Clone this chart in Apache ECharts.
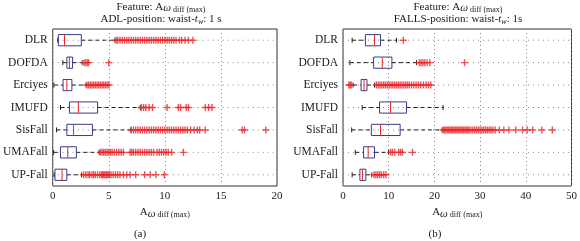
<!DOCTYPE html>
<html>
<head>
<meta charset="utf-8">
<script src="https://cdn.jsdelivr.net/npm/echarts@6/dist/echarts.min.js"></script>
<style>html,body{margin:0;padding:0;background:#fff}#c{width:580px;height:241px}</style>
</head>
<body>
<div id="c"></div>
<script>
// ---------- DATA ----------
const categories = ['DLR', 'DOFDA', 'Erciyes', 'IMUFD', 'SisFall', 'UMAFall', 'UP-Fall'];
const adlTicks = [0, 5, 10, 15, 20];
const fallTicks = [0, 10, 20, 30, 40, 50];

// [lower whisker, Q1, median, Q3, upper whisker]
const adlBoxes = [
  [0.45, 0.5, 1.05, 2.55, 5.55],
  [0.9, 1.26, 1.49, 1.77, 2.63],
  [0.1, 0.92, 1.26, 1.71, 2.97],
  [0.7, 1.49, 2.29, 4.0, 7.8],
  [0.34, 1.26, 1.86, 3.54, 6.97],
  [0.08, 0.69, 1.34, 2.11, 4.14],
  [0.12, 0.2, 0.83, 1.26, 2.57]
];
const fallBoxes = [
  [2.0, 4.9, 6.9, 8.2, 11.7],
  [1.5, 6.7, 8.6, 10.7, 16.1],
  [2.2, 3.96, 4.6, 5.25, 6.9],
  [4.2, 8.0, 10.4, 13.9, 21.9],
  [1.9, 6.2, 8.2, 12.5, 21.7],
  [2.7, 4.5, 5.5, 6.9, 10.0],
  [2.0, 3.7, 4.25, 5.0, 6.3]
];

const adlOutliers = [
  [5.65, 5.8, 6.0, 6.2, 6.4, 6.6, 6.8, 7.0, 7.2, 7.4, 7.6, 7.8, 8.0, 8.2, 8.4, 8.6, 8.8, 9.0, 9.2, 9.4, 9.6, 9.8, 10.0, 10.2, 10.4, 10.6, 10.8, 11.0, 11.3, 11.5, 11.8, 12.1, 12.5],
  [2.8, 2.95, 3.1, 3.2, 5.0],
  [3.05, 3.2, 3.35, 3.5, 3.65, 3.8, 3.95, 4.1, 4.25, 4.4, 4.55, 4.7, 4.85, 5.0],
  [7.9, 8.1, 8.3, 8.6, 8.9, 10.2, 11.2, 11.4, 11.9, 12.1, 13.6, 13.9, 14.2],
  [7.0, 7.2, 7.4, 7.6, 7.8, 8.0, 8.2, 8.4, 8.6, 8.8, 9.0, 9.2, 9.4, 9.6, 9.8, 10.0, 10.2, 10.4, 10.6, 10.8, 11.0, 11.2, 11.4, 11.6, 11.8, 12.0, 12.3, 12.6, 12.9, 13.1, 13.6, 16.9, 17.1, 19.0],
  [4.25, 4.4, 4.55, 4.7, 4.85, 5.0, 5.15, 5.3, 5.5, 5.7, 5.9, 6.1, 6.3, 6.9, 7.05, 7.2, 7.4, 7.6, 7.8, 8.0, 8.2, 8.4, 8.6, 8.8, 9.0, 9.3, 9.5, 9.7, 9.9, 10.1, 10.3, 10.6, 11.65],
  [2.75, 2.95, 3.15, 3.3, 3.5, 3.65, 3.8, 4.0, 4.2, 4.35, 4.45, 4.55, 4.65, 4.75, 4.85, 4.95, 5.05, 5.2, 5.4, 5.6, 5.8, 6.0, 6.3, 6.6, 6.9, 7.4, 8.2, 8.7, 9.2, 9.95]
];
const fallOutliers = [
  [13.2],
  [16.7, 17.1, 17.5, 17.9, 18.4, 19.0, 26.6],
  [1.3, 1.55, 1.8, 7.3, 7.7, 8.1, 8.5, 8.9, 9.3, 9.7, 10.1, 10.5, 10.9, 11.3, 11.7, 12.1, 12.5, 12.9, 13.3, 13.7, 14.1, 14.5, 15.0, 15.5, 16.0, 16.5, 17.0, 17.6, 18.2, 18.7, 19.2],
  [],
  [21.9, 22.2, 22.5, 22.8, 23.1, 23.4, 23.7, 24.0, 24.3, 24.6, 24.9, 25.2, 25.5, 25.8, 26.1, 26.4, 26.7, 27.0, 27.3, 27.6, 28.0, 28.4, 28.8, 29.2, 29.6, 30.0, 30.4, 30.8, 31.2, 31.6, 32.0, 32.4, 32.8, 33.3, 34.2, 35.2, 36.3, 37.8, 39.3, 40.3, 41.5, 43.5, 45.8],
  [10.4, 10.8, 11.3, 12.2, 12.6, 13.0, 15.2],
  [6.8, 7.2, 7.6, 8.0, 8.4, 8.9, 9.4]
];

// ---------- CHART ----------
const serif = '"Liberation Serif", "Times New Roman", serif';
const txt = '#1a1a1a';
const boxColor = '#3a3a88';
const red = '#e8262a';
const plusPath = 'path://M4,0H6V4H10V6H6V10H4V6H0V4H4Z';

const richBase = {
  n: { fontFamily: serif, fontSize: 11, fontWeight: 'normal', color: txt, lineHeight: 14 },
  w: { fontFamily: serif, fontSize: 11, fontWeight: 'normal', fontStyle: 'italic', color: txt, lineHeight: 12, verticalAlign: 'bottom' },
  s: { fontFamily: serif, fontSize: 8, fontWeight: 'normal', color: txt, lineHeight: 5, verticalAlign: 'bottom' },
  i: { fontFamily: serif, fontSize: 11, fontWeight: 'normal', fontStyle: 'italic', color: txt, lineHeight: 14 },
  si: { fontFamily: serif, fontSize: 8, fontWeight: 'normal', fontStyle: 'italic', color: txt, lineHeight: 6, verticalAlign: 'bottom' }
};

function renderBox(params, api) {
  const cat = api.value(0);
  const lo = api.coord([api.value(1), cat]);
  const q1 = api.coord([api.value(2), cat]);
  const md = api.coord([api.value(3), cat]);
  const q3 = api.coord([api.value(4), cat]);
  const hi = api.coord([api.value(5), cat]);
  const band = api.size([0, 1])[1];
  const h = band * 0.5;
  const cap = 2.5;
  const y = md[1];
  const cs = params.coordSys;
  const dash = { stroke: '#222', lineWidth: 1, lineDash: [4, 3] };
  const solid = { stroke: '#222', lineWidth: 1 };
  return {
    type: 'group',
    children: [
      { type: 'line', shape: { x1: cs.x, y1: y, x2: cs.x + cs.width, y2: y }, style: { stroke: '#8a8a8a', lineWidth: 1, lineDash: [1, 4] } },
      { type: 'line', shape: { x1: lo[0], y1: y, x2: q1[0], y2: y }, style: dash },
      { type: 'line', shape: { x1: q3[0], y1: y, x2: hi[0], y2: y }, style: dash },
      { type: 'line', shape: { x1: lo[0], y1: y - cap, x2: lo[0], y2: y + cap }, style: solid },
      { type: 'line', shape: { x1: hi[0], y1: y - cap, x2: hi[0], y2: y + cap }, style: solid },
      { type: 'rect', shape: { x: q1[0], y: y - h / 2, width: q3[0] - q1[0], height: h }, style: { fill: 'none', stroke: boxColor, lineWidth: 1 } },
      { type: 'line', shape: { x1: md[0], y1: y - h / 2, x2: md[0], y2: y + h / 2 }, style: { stroke: red, lineWidth: 1 } }
    ]
  };
}

function outlierData(list) {
  const out = [];
  list.forEach((vals, i) => vals.forEach(v => out.push([v, i])));
  return out;
}

function xAxes(gi, ticks) {
  const min = ticks[0], max = ticks[ticks.length - 1], interval = ticks[1] - ticks[0];
  return [
    {
      gridIndex: gi, type: 'value', min, max, interval, position: 'bottom',
      axisLine: { show: false },
      axisTick: { inside: true, length: 3, lineStyle: { color: '#333' } },
      axisLabel: { fontFamily: serif, fontSize: 11, color: txt, margin: 5 },
      splitLine: { show: true, lineStyle: { type: [1, 3], color: '#8a8a8a' } },
      name: '{n|A}{w|ω}{s| diff (max)}',
      nameLocation: 'middle', nameGap: 19,
      nameTextStyle: { rich: richBase }
    },
    {
      gridIndex: gi, type: 'value', min, max, interval, position: 'top',
      axisLine: { show: false },
      axisTick: { inside: true, length: 3, lineStyle: { color: '#333' } },
      axisLabel: { show: false }, splitLine: { show: false }
    }
  ];
}
function yAxes(gi) {
  return [
    {
      gridIndex: gi, type: 'category', data: categories, inverse: true, position: 'left',
      axisLine: { show: false },
      axisTick: { inside: true, alignWithLabel: true, length: 3, lineStyle: { color: '#333' } },
      axisLabel: { fontFamily: serif, fontSize: 11.5, color: txt, margin: 5 },
      splitLine: { show: false }
    },
    {
      gridIndex: gi, type: 'category', data: categories, inverse: true, position: 'right',
      axisLine: { show: false },
      axisTick: { inside: true, alignWithLabel: true, length: 3, lineStyle: { color: '#333' } },
      axisLabel: { show: false }, splitLine: { show: false }
    }
  ];
}

const chart = echarts.init(document.getElementById('c'), null, { renderer: 'canvas' });
chart.setOption({
  animation: false,
  backgroundColor: '#fff',
  title: [
    { text: '{n|Feature: A}{w|ω}{s| diff (max)}', left: 161, top: 0, textAlign: 'center', padding: 0, textStyle: { fontWeight: 'normal', rich: richBase } },
    { text: '{n|ADL-position: waist-}{i|t}{si|w}{n|: 1 s}', left: 161, top: 12, textAlign: 'center', padding: 0, textStyle: { fontWeight: 'normal', rich: richBase } },
    { text: '{n|Feature: A}{w|ω}{s| diff (max)}', left: 458, top: 0, textAlign: 'center', padding: 0, textStyle: { fontWeight: 'normal', rich: richBase } },
    { text: '{n|FALLS-position: waist-}{i|t}{si|w}{n|: 1s}', left: 458, top: 12, textAlign: 'center', padding: 0, textStyle: { fontWeight: 'normal', rich: richBase } },
    { text: '(a)', left: 140, top: 229, textAlign: 'center', padding: 0, textStyle: { fontFamily: serif, fontSize: 11, color: txt, fontWeight: 'normal' } },
    { text: '(b)', left: 435, top: 229, textAlign: 'center', padding: 0, textStyle: { fontFamily: serif, fontSize: 11, color: txt, fontWeight: 'normal' } }
  ],
  grid: [
    { left: 46, top: 29, width: 231, height: 157, show: true, borderColor: '#333', borderWidth: 1, backgroundColor: 'transparent' },
    { left: 343, top: 29, width: 231, height: 157, show: true, borderColor: '#333', borderWidth: 1, backgroundColor: 'transparent' }
  ],
  xAxis: [...xAxes(0, adlTicks), ...xAxes(1, fallTicks)],
  yAxis: [...yAxes(0), ...yAxes(1)],
  series: [
    { type: 'custom', xAxisIndex: 0, yAxisIndex: 0, silent: true, z: 2, renderItem: renderBox,
      encode: { x: [1, 2, 3, 4, 5], y: 0 }, data: adlBoxes.map((b, i) => [i, ...b]) },
    { type: 'scatter', xAxisIndex: 0, yAxisIndex: 0, silent: true, z: 3, symbol: plusPath, symbolSize: 7,
      itemStyle: { color: red }, data: outlierData(adlOutliers) },
    { type: 'custom', xAxisIndex: 2, yAxisIndex: 2, silent: true, z: 2, renderItem: renderBox,
      encode: { x: [1, 2, 3, 4, 5], y: 0 }, data: fallBoxes.map((b, i) => [i, ...b]) },
    { type: 'scatter', xAxisIndex: 2, yAxisIndex: 2, silent: true, z: 3, symbol: plusPath, symbolSize: 7,
      itemStyle: { color: red }, data: outlierData(fallOutliers) }
  ]
});
</script>
</body>
</html>
